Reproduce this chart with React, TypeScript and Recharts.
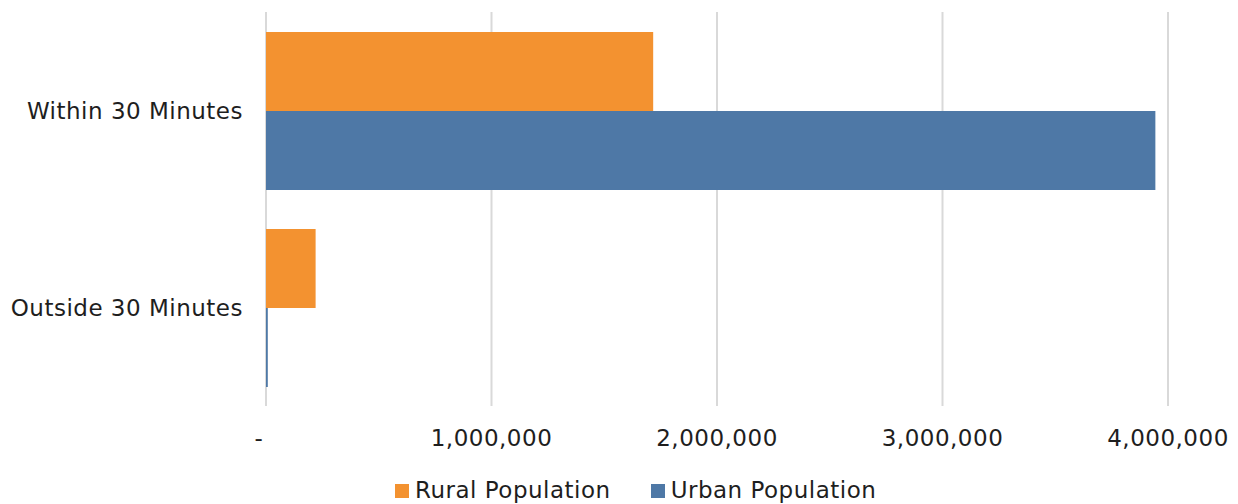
import React from "react";
import { BarChart, Bar, XAxis, YAxis, CartesianGrid, Legend } from "recharts";

const categories = ["Within 30 Minutes", "Outside 30 Minutes"];
const ruralPopulation = [1717000, 220000];
const urbanPopulation = [3944000, 8000];
const xTicks = [0, 1000000, 2000000, 3000000, 4000000];

const RURAL = "#F39230";
const URBAN = "#4E78A6";
const FONT = "'DejaVu Sans', Verdana, sans-serif";
const TEXT = "#1E1E1E";
const SPACING = "0.5px";

const data = categories.map((name, i) => ({
  name,
  rural: ruralPopulation[i],
  urban: urbanPopulation[i],
}));

const formatTick = (v: number) => (v === 0 ? "-" : v.toLocaleString("en-US"));

function XTick({ x, y, payload }: { x?: number; y?: number; payload?: { value: number } }) {
  const v = payload?.value ?? 0;
  return (
    <text
      x={(x ?? 0) + (v === 0 ? -7 : 0)}
      y={(y ?? 0) + 40}
      textAnchor="middle"
      fill={TEXT}
      fontSize={23}
      fontFamily={FONT}
      letterSpacing={SPACING}
    >
      {formatTick(v)}
    </text>
  );
}

function LegendContent() {
  const items = [
    { label: "Rural Population", color: RURAL },
    { label: "Urban Population", color: URBAN },
  ];
  return (
    <div
      style={{
        display: "flex",
        paddingLeft: 395,
        paddingTop: 13,
        fontFamily: FONT,
        fontSize: 23,
        lineHeight: "23px",
        letterSpacing: SPACING,
        color: TEXT,
      }}
    >
      {items.map((it, i) => (
        <div
          key={it.label}
          style={{ display: "flex", alignItems: "center", marginLeft: i === 0 ? 0 : 40 }}
        >
          <span style={{ width: 14, height: 14, background: it.color, marginRight: 6 }} />
          <span>{it.label}</span>
        </div>
      ))}
    </div>
  );
}

export default function App() {
  return (
    <div style={{ position: "absolute", left: 0, top: 0, background: "#fff" }}>
      <BarChart
        width={1238}
        height={504}
        data={data}
        layout="vertical"
        margin={{ top: 12, right: 70, left: 0, bottom: 0 }}
        barCategoryGap={20}
        barGap={0}
      >
        <CartesianGrid horizontal={false} stroke="#D9D9D9" strokeWidth={2} />
        <XAxis
          type="number"
          domain={[0, 4000000]}
          ticks={xTicks}
          axisLine={false}
          tickLine={false}
          tickSize={0}
          tickMargin={0}
          height={60}
          tick={<XTick />}
          interval={0}
        />
        <YAxis
          type="category"
          dataKey="name"
          width={266}
          axisLine={false}
          tickLine={false}
          tickSize={0}
          tickMargin={23}
          tick={{ fill: TEXT, fontSize: 23, fontFamily: FONT, letterSpacing: SPACING }}
        />
        <Legend verticalAlign="bottom" height={38} content={<LegendContent />} />
        <Bar dataKey="rural" name="Rural Population" fill={RURAL} isAnimationActive={false} />
        <Bar dataKey="urban" name="Urban Population" fill={URBAN} isAnimationActive={false} />
      </BarChart>
    </div>
  );
}
